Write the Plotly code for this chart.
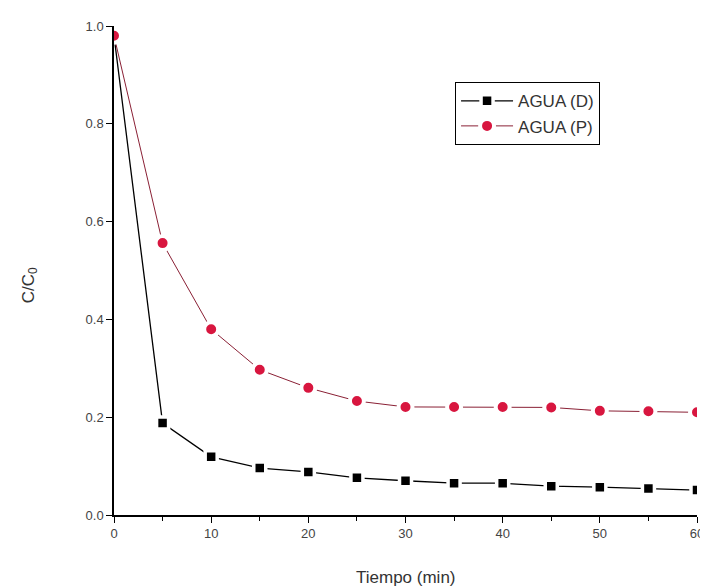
import plotly.graph_objects as go

tiempo = [0, 5, 10, 15, 20, 25, 30, 35, 40, 45, 50, 55, 60]
agua_d = [0.98, 0.188, 0.119, 0.096, 0.088, 0.076, 0.070, 0.065, 0.065, 0.059, 0.057, 0.054, 0.051]
agua_p = [0.98, 0.556, 0.380, 0.297, 0.260, 0.233, 0.221, 0.221, 0.221, 0.220, 0.213, 0.212, 0.210]

x_ticks = [0, 10, 20, 30, 40, 50, 60]
y_ticks = [0.0, 0.2, 0.4, 0.6, 0.8, 1.0]
y_labels = ["0.0", "0.2", "0.4", "0.6", "0.8", "1.0"]

RED = "#D8163F"

fig = go.Figure()
fig.add_trace(go.Scatter(
    x=tiempo, y=agua_d, mode="lines+markers", name="AGUA (D)",
    line=dict(color="black", width=1.3),
    marker=dict(symbol="square", size=12, color="black", line=dict(color="white", width=3.5)),
))
fig.add_trace(go.Scatter(
    x=tiempo, y=agua_p, mode="lines+markers", name="AGUA (P)",
    line=dict(color="#8a2035", width=1),
    marker=dict(symbol="circle", size=14, color=RED, line=dict(color="white", width=4)),
))

fig.update_layout(
    width=700, height=578,
    margin=dict(l=106, r=11, t=18, b=71),
    paper_bgcolor="white", plot_bgcolor="white",
    font=dict(family="Liberation Sans, Arial, sans-serif", color="#444444"),
    showlegend=True,
    legend=dict(
        x=0.585, y=0.885, xanchor="left", yanchor="top",
        bgcolor="white", bordercolor="black", borderwidth=1,
        font=dict(size=17, color="#333333"),
        itemwidth=52, tracegroupgap=0,
    ),
    annotations=[
        dict(text="Tiempo (min)", xref="paper", yref="paper", x=0.5, y=0, yshift=-62,
             xanchor="center", yanchor="middle", showarrow=False,
             font=dict(size=17, color="#333333")),
        dict(text="C/C<sub>0</sub>", xref="paper", yref="paper", x=0, xshift=-84, y=0.47,
             xanchor="center", yanchor="middle", showarrow=False, textangle=-90,
             font=dict(size=17, color="#333333")),
    ],
)
fig.update_xaxes(
    range=[0, 60], tickmode="array", tickvals=x_ticks, automargin=False,
    showline=True, linecolor="black", linewidth=1.5,
    ticks="outside", ticklen=6, tickcolor="black", tickwidth=1.2,
    minor=dict(dtick=5, tick0=0, ticks="outside", ticklen=4, tickcolor="black", tickwidth=1.2, showgrid=False),
    showgrid=False, zeroline=False,
    tickfont=dict(size=13, color="#444444"),
)
fig.update_yaxes(
    range=[0, 1.0], tickmode="array", tickvals=y_ticks, ticktext=y_labels, automargin=False,
    showline=True, linecolor="black", linewidth=1.5,
    ticks="outside", ticklen=6, tickcolor="black", tickwidth=1.2,
    showgrid=False, zeroline=False,
    tickfont=dict(size=13, color="#444444"),
)

fig.write_html("out.html")
